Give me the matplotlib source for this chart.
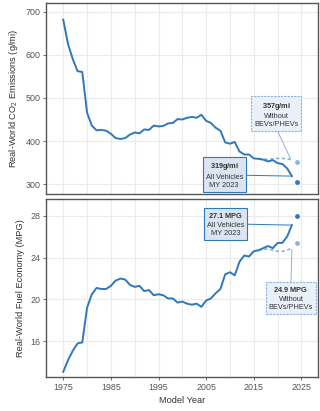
import numpy as np
import matplotlib.pyplot as plt

plt.rcParams['font.family'] = ['Liberation Sans', 'DejaVu Sans']
plt.rcParams['mathtext.fontset'] = 'custom'
plt.rcParams['mathtext.rm'] = 'Liberation Sans'
plt.rcParams['mathtext.bf'] = 'Liberation Sans:bold'

years = list(range(1975, 2024))
co2 = [681, 625, 590, 562, 560, 466, 436, 425, 426, 424,
       417, 407, 405, 407, 415, 420, 418, 427, 426, 436,
       434, 435, 441, 442, 451, 450, 454, 456, 454, 461,
       447, 442, 431, 424, 397, 394, 398, 376, 369, 369,
       360, 359, 357, 353, 356, 349, 347, 337, 319]
mpg = [13.1, 14.2, 15.1, 15.8, 15.9, 19.2, 20.5, 21.1, 21.0, 21.0,
       21.3, 21.8, 22.0, 21.9, 21.4, 21.2, 21.3, 20.8, 20.9, 20.4,
       20.5, 20.4, 20.1, 20.1, 19.7, 19.8, 19.6, 19.5, 19.6, 19.3,
       19.9, 20.1, 20.6, 21.0, 22.4, 22.6, 22.3, 23.6, 24.2, 24.1,
       24.6, 24.7, 24.9, 25.1, 24.9, 25.4, 25.4, 26.0, 27.1]

# without BEVs/PHEVs
years_nb = list(range(2016, 2024))
co2_nb = [359, 358, 358, 359, 360, 360, 359, 357]
mpg_nb = [24.7, 24.8, 24.8, 24.7, 24.6, 24.6, 24.7, 24.9]

# MY 2024 preliminary points
prelim_year = 2024
co2_prelim = [306, 351]
mpg_prelim = [28.0, 25.4]

blue = '#2f78bd'
light = '#8fb3d9'
edge = '#555555'
tick_c = '#555555'

fig = plt.figure(figsize=(3.2, 4.11), dpi=100)
ax1 = fig.add_axes([0.144, 0.528, 0.850, 0.465])
ax2 = fig.add_axes([0.144, 0.082, 0.850, 0.433])

for ax in (ax1, ax2):
    ax.set_xlim(1971.4, 2028.5)
    ax.set_xticks(range(1975, 2026, 5), minor=False)
    ax.grid(True, color='#ebebeb', linewidth=0.8)
    ax.set_axisbelow(True)
    for s in ax.spines.values():
        s.set_color(edge)
        s.set_linewidth(1.0)
    ax.tick_params(length=2, width=0.6, color=edge, labelsize=6.4,
                   labelcolor=tick_c, pad=2)

# --- top panel: CO2
ax1.plot(years, co2, color=blue, lw=1.4, zorder=3)
ax1.plot(years_nb, co2_nb, color=light, lw=1.2, ls=(0, (2, 1.5)), zorder=2)
ax1.scatter([prelim_year], [co2_prelim[0]], s=6, color=blue, zorder=4)
ax1.scatter([prelim_year], [co2_prelim[1]], s=6, color=light, zorder=4)
ax1.set_ylim(277.6, 720)
ax1.set_yticks([300, 400, 500, 600, 700])
ax1.set_xticklabels([])
ax1.tick_params(axis='x', length=0)
ax1.set_ylabel('Real-World CO$_2$ Emissions (g/mi)', fontsize=6.7, color='#333333', labelpad=4)

# --- bottom panel: MPG
ax2.plot(years, mpg, color=blue, lw=1.4, zorder=3)
ax2.plot(years_nb, mpg_nb, color=light, lw=1.2, ls=(0, (2, 1.5)), zorder=2)
ax2.scatter([prelim_year], [mpg_prelim[0]], s=6, color=blue, zorder=4)
ax2.scatter([prelim_year], [mpg_prelim[1]], s=6, color=light, zorder=4)
ax2.set_ylim(12.57, 29.56)
ax2.set_yticks([16, 20, 24, 28])
ax2.set_xticks([1975, 1985, 1995, 2005, 2015, 2025])
ax2.set_xticks(range(1975, 2026, 5), minor=True)
ax2.grid(True, which='minor', color='#ebebeb', linewidth=0.8)
ax2.tick_params(axis='x', which='minor', length=0)
ax2.set_ylabel('Real-World Fuel Economy (MPG)', fontsize=6.7, color='#333333', labelpad=4)
ax2.set_xlabel('Model Year', fontsize=6.7, color='#333333', labelpad=3)


def label(ax, xy, xytext, head, body, solid, relpos):
    if solid:
        bb = dict(boxstyle='square,pad=0.4', fc='#dbe5f1', ec=blue, lw=0.8)
        ap = dict(arrowstyle='-', color=blue, lw=0.7, relpos=relpos,
                  shrinkA=0, shrinkB=1)
    else:
        bb = dict(boxstyle='square,pad=0.4', fc='#e9f0f8', ec=light, lw=0.8, ls=(0, (2, 1)))
        ap = dict(arrowstyle='-', color=light, lw=0.7, relpos=relpos,
                  shrinkA=0, shrinkB=1)
    txt = r'$\bf{' + head.replace(' ', r'\ ') + '}$\n' + body
    ax.annotate(txt, xy=xy, xytext=xytext, ha='center', va='center',
                fontsize=5.3, color='#333333', linespacing=1.25,
                bbox=bb, arrowprops=ap, zorder=5)


label(ax1, (2022.8, 357), (2019.7, 462), '357g/mi', 'Without\nBEVs/PHEVs', False, (0.5, 0))
label(ax1, (2023, 319), (2008.8, 321), '319g/mi', 'All Vehicles\nMY 2023', True, (1, 0.5))
label(ax2, (2023, 27.1), (2009.1, 27.19), '27.1 MPG', 'All Vehicles\nMY 2023', True, (1, 0.5))
label(ax2, (2023, 24.9), (2022.8, 20.14), '24.9 MPG', 'Without\nBEVs/PHEVs', False, (0.5, 1))

fig.savefig('out.png', dpi=100)
